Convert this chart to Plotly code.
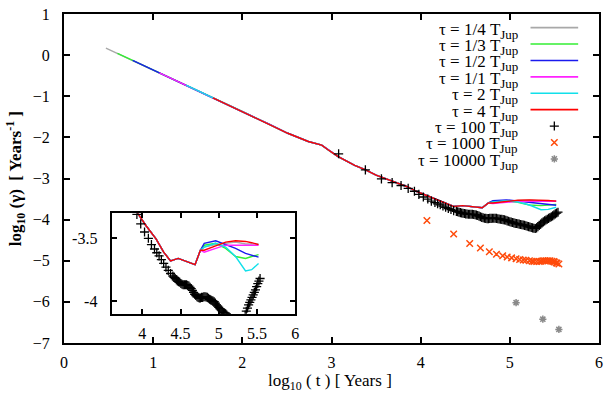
import plotly.graph_objects as go

# shared early-time path of the six line curves, log10(t) and log10(gamma)
t_common = [0.47, 0.60, 0.77, 1.07, 1.37, 1.67, 2.00, 2.30, 2.51, 2.74, 2.89, 2.98, 3.07,
            3.26, 3.37, 3.50, 3.63, 3.74, 3.85, 3.95, 4.05, 4.18, 4.28, 4.37, 4.47,
            4.56, 4.69, 4.76]
g_common = [0.17, 0.04, -0.13, -0.43, -0.73, -1.04, -1.37, -1.68, -1.90, -2.10, -2.19, -2.33, -2.46,
            -2.68, -2.78, -2.92, -3.02, -3.12, -3.20, -3.31, -3.40, -3.505, -3.61, -3.68, -3.66,
            -3.68, -3.71, -3.595]

# where each curve starts on the shared path (index into t_common)
start_idx = [0, 1, 2, 3, 4, 5]

# late-time tails, after the curves split
t_tail = [4.81, 4.96, 5.09, 5.22, 5.35, 5.43, 5.52]
g_tail_q = [-3.57, -3.55, -3.54, -3.53, -3.545, -3.545, -3.545]   # 1/4
g_tail_t = [-3.555, -3.54, -3.58, -3.645, -3.66, -3.645, -3.63]   # 1/3
g_tail_h = [-3.54, -3.52, -3.55, -3.58, -3.62, -3.635, -3.65]     # 1/2
g_tail_1 = [-3.61, -3.58, -3.555, -3.555, -3.555, -3.555, -3.555] # 1/1
g_tail_2 = [-3.57, -3.54, -3.57, -3.645, -3.76, -3.75, -3.70]     # 2
g_tail_4 = [-3.595, -3.56, -3.53, -3.52, -3.525, -3.535, -3.55]   # 4

line_names = ["1/4", "1/3", "1/2", "1/1", "2", "4"]
line_colors = ["#a8a8a8", "#33ee33", "#1a1aee", "#ff22ff", "#11e0ea", "#ff0000"]
line_tails = [g_tail_q, g_tail_t, g_tail_h, g_tail_1, g_tail_2, g_tail_4]

# tau = 100 T_Jup (sparse at first, a dense band later on)
t_100 = [3.08, 3.38, 3.56, 3.68, 3.78, 3.86, 3.93, 3.98, 4.03, 4.08, 4.12, 4.16,
         4.19, 4.22, 4.25, 4.28, 4.31, 4.34, 4.37,
         4.400, 4.415, 4.430, 4.445, 4.460, 4.475, 4.490, 4.505, 4.520, 4.535,
         4.550, 4.565, 4.580, 4.595, 4.610, 4.625, 4.640, 4.655, 4.670, 4.685,
         4.700, 4.715, 4.730, 4.745, 4.760, 4.775, 4.790, 4.805, 4.820, 4.835,
         4.850, 4.865, 4.880, 4.895, 4.910, 4.925, 4.940, 4.955, 4.970, 4.985,
         5.000, 5.015, 5.030, 5.045, 5.060, 5.075, 5.090, 5.105, 5.120, 5.135,
         5.150, 5.165, 5.180, 5.195, 5.210, 5.225, 5.240, 5.255, 5.270, 5.285,
         5.300, 5.315, 5.330, 5.345, 5.360, 5.375, 5.390, 5.405, 5.420, 5.435,
         5.450, 5.465, 5.480, 5.495, 5.510, 5.525, 5.540]
g_100 = [-2.40, -2.79, -3.01, -3.10, -3.17, -3.24, -3.31, -3.385, -3.45, -3.50, -3.55, -3.585,
         -3.615, -3.64, -3.67, -3.70, -3.73, -3.755, -3.78,
         -3.800, -3.810, -3.820, -3.830, -3.840, -3.845, -3.850, -3.860, -3.865, -3.870,
         -3.870, -3.870, -3.870, -3.875, -3.880, -3.890, -3.900, -3.915, -3.930, -3.945,
         -3.955, -3.965, -3.970, -3.975, -3.975, -3.970, -3.970, -3.965, -3.965, -3.967,
         -3.970, -3.977, -3.985, -3.990, -3.995, -4.000, -4.005, -4.015, -4.030, -4.040,
         -4.050, -4.060, -4.070, -4.080, -4.090, -4.095, -4.100, -4.110, -4.120, -4.125,
         -4.130, -4.140, -4.150, -4.160, -4.170, -4.180, -4.190, -4.200, -4.210, -4.215,
         -4.200, -4.170, -4.140, -4.110, -4.080, -4.055, -4.030, -4.010, -3.990, -3.970,
         -3.950, -3.930, -3.910, -3.885, -3.860, -3.840, -3.820]

# tau = 1000 T_Jup
t_1000 = [4.07, 4.37, 4.55, 4.67, 4.77, 4.85, 4.92, 4.97, 5.02, 5.07, 5.11, 5.15,
          5.18, 5.22, 5.25, 5.27, 5.30, 5.33, 5.35, 5.37, 5.39, 5.41, 5.43, 5.45,
          5.47, 5.49, 5.50, 5.52, 5.53, 5.55]
g_1000 = [-4.02, -4.35, -4.58, -4.69, -4.78, -4.84, -4.88, -4.91, -4.93, -4.95, -4.97, -4.98,
          -4.99, -5.00, -5.01, -5.02, -5.02, -5.02, -5.01, -5.00, -5.00, -5.00, -5.00, -5.00,
          -5.01, -5.02, -5.03, -5.05, -5.06, -5.08]

# tau = 10000 T_Jup
t_10000 = [5.07, 5.37, 5.55]
g_10000 = [-6.02, -6.42, -6.67]

point_names = ["100", "1000", "10000"]

W, H = 609, 395
ML, MR, MT, MB = 64, 6, 6, 52
PW, PH = W - ML - MR, H - MT - MB
FONT = "Liberation Serif, Times New Roman, serif"
ORANGE, GREY = "#ff4a0a", "#8a8a8a"


def px(x):
    return (x - ML) / PW


def py(y):
    return (H - MB - y) / PH


fig = go.Figure()

# main panel and inset share the same curves
for ax in [("x", "y"), ("x2", "y2")]:
    for name, col, s, tail in zip(line_names, line_colors, start_idx, line_tails):
        fig.add_trace(go.Scatter(
            x=t_common[s:] + t_tail, y=g_common[s:] + tail, mode="lines",
            line=dict(color=col, width=1.4), xaxis=ax[0], yaxis=ax[1],
            showlegend=False, hoverinfo="skip"))
    fig.add_trace(go.Scatter(
        x=t_100, y=g_100, mode="markers", xaxis=ax[0], yaxis=ax[1],
        marker=dict(symbol="cross-thin", size=6.5, color="black",
                    line=dict(color="black", width=1.3)),
        showlegend=False, hoverinfo="skip"))

fig.add_trace(go.Scatter(
    x=t_1000, y=g_1000, mode="markers",
    marker=dict(symbol="x-thin", size=6.5, color=ORANGE, line=dict(color=ORANGE, width=1.5)),
    showlegend=False, hoverinfo="skip"))
fig.add_trace(go.Scatter(
    x=t_10000, y=g_10000, mode="markers",
    marker=dict(symbol="asterisk-open", size=6, color=GREY, line=dict(color=GREY, width=1.5)),
    showlegend=False, hoverinfo="skip"))

# gnuplot style key: text right aligned, sample on the right
key_row0, key_dy = 20, 16.8
key_text_right, key_line = 523, (534, 582)
annotations = []
labels = line_names + point_names
for i, lab in enumerate(labels):
    yk = key_row0 + i * key_dy
    annotations.append(dict(
        x=px(key_text_right), y=py(yk + 3), xref="paper", yref="paper",
        xanchor="right", yanchor="middle", showarrow=False,
        text=f"τ = {lab} T<sub><span style='font-size:13px'>Jup</span></sub>",
        font=dict(family=FONT, size=17, color="black")))
for i, col in enumerate(line_colors):
    yk = py(key_row0 + i * key_dy)
    fig.add_trace(go.Scatter(
        x=[px(key_line[0]), px(key_line[1])], y=[yk, yk], mode="lines",
        line=dict(color=col, width=1.6), xaxis="x3", yaxis="y3",
        showlegend=False, hoverinfo="skip"))
key_markers = [("cross-thin", "black", 6.5, 1.3), ("x-thin", ORANGE, 6.5, 1.5),
               ("asterisk-open", GREY, 6, 1.5)]
for j, (sym, col, sz, lw) in enumerate(key_markers):
    yk = py(key_row0 + (6 + j) * key_dy)
    fig.add_trace(go.Scatter(
        x=[px((key_line[0] + key_line[1]) / 2)], y=[yk], mode="markers",
        marker=dict(symbol=sym, size=sz, color=col, line=dict(color=col, width=lw)),
        xaxis="x3", yaxis="y3", showlegend=False, hoverinfo="skip"))

annotations.append(dict(
    x=px(332), y=py(383), xref="paper", yref="paper", showarrow=False,
    xanchor="center", yanchor="middle",
    text="log<sub>10</sub> ( t ) [ Years ]", font=dict(family=FONT, size=17, color="black")))
annotations.append(dict(
    x=px(16), y=py(175), xref="paper", yref="paper", showarrow=False,
    xanchor="center", yanchor="middle", textangle=-90,
    text="<b>log<sub>10</sub> (γ)  [ Years<sup>-1</sup> ]</b>",
    font=dict(family=FONT, size=17, color="black")))

axis_common = dict(showgrid=False, zeroline=False, showline=True, linecolor="black",
                   linewidth=2, mirror="ticks", ticks="inside", tickcolor="black",
                   tickwidth=1.5, ticklabeloverflow="allow",
                   tickfont=dict(family=FONT, size=16, color="black"))

fig.update_layout(
    width=W, height=H, margin=dict(l=ML, r=MR, t=MT, b=MB),
    paper_bgcolor="white", plot_bgcolor="white", showlegend=False,
    xaxis=dict(range=[0, 6], tickvals=[0, 1, 2, 3, 4, 5, 6], ticklen=6,
               ticklabelstandoff=4, **axis_common),
    yaxis=dict(range=[-7, 1], tickvals=list(range(-7, 2)), ticklen=6,
               ticklabelstandoff=9, **axis_common),
    xaxis2=dict(range=[3.6, 6.0], tickvals=[4, 4.5, 5, 5.5, 6], ticktext=["4", "4.5", "5", "5.5", "6"],
                domain=[px(112), px(297)], anchor="y2", ticklen=5,
                ticklabelstandoff=4, **axis_common),
    yaxis2=dict(range=[-4.1, -3.3], tickvals=[-4, -3.5], ticktext=["-4", "-3.5"],
                domain=[py(313), py(210)], anchor="x2", ticklen=5,
                ticklabelstandoff=9, **axis_common),
    xaxis3=dict(range=[0, 1], overlaying="x", visible=False),
    yaxis3=dict(range=[0, 1], overlaying="y", visible=False),
    annotations=annotations,
)

fig.write_html("out.html", config={"displayModeBar": False},
               post_script="document.body.style.margin='0px';")
